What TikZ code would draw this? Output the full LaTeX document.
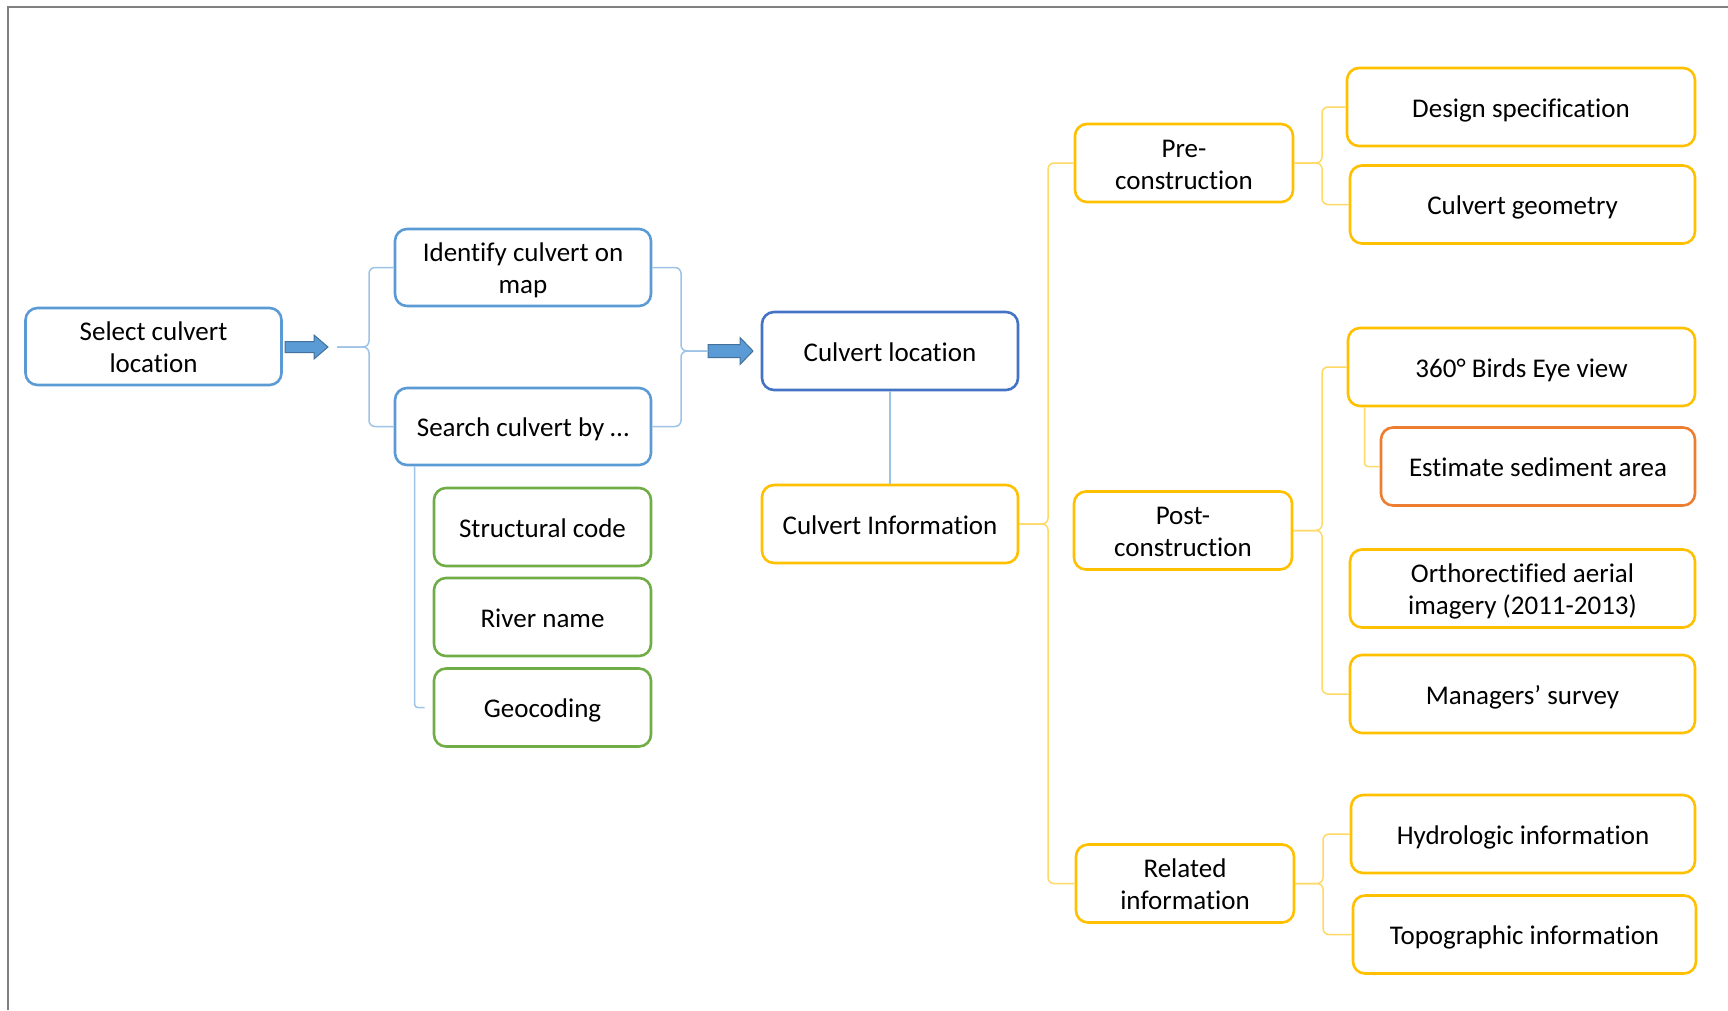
\documentclass[tikz,border=0pt]{standalone}
\usepackage{fontspec}
\setmainfont{Carlito}[Ligatures=NoCommon]
\definecolor{bluebox}{HTML}{5B9BD5}
\definecolor{darkblue}{HTML}{4472C4}
\definecolor{blueline}{HTML}{9DC3E6}
\definecolor{yellowbox}{HTML}{FFC000}
\definecolor{yellowline}{HTML}{FFD966}
\definecolor{greenbox}{HTML}{70AD47}
\definecolor{orangebox}{HTML}{ED7D31}
\definecolor{arrowedge}{HTML}{41719C}
\definecolor{framegray}{HTML}{808080}
\newcommand\mystrut{\rule[-7pt]{0pt}{34pt}}
\tikzset{
  box/.style={draw, rounded corners=12pt, line width=2.6pt, fill=white, inner sep=0pt,
    align=center, font=\fontsize{27}{32}\selectfont},
  bluenode/.style={box, draw=bluebox},
  darknode/.style={box, draw=darkblue},
  greennode/.style={box, draw=greenbox},
  yellownode/.style={box, draw=yellowbox},
  orangenode/.style={box, draw=orangebox},
  sz/.style 2 args={minimum width=#1, minimum height=#2},
  bline/.style={draw=blueline, line width=1.5pt, rounded corners=6pt},
  yline/.style={draw=yellowline, line width=1.5pt, rounded corners=6pt},
  arrowshape/.style={fill=bluebox, draw=arrowedge, line width=1pt, line join=miter},
}
\begin{document}
\lineskiplimit=-50pt\relax
\begin{tikzpicture}[x=1pt,y=-1pt]
\useasboundingbox (0,0) rectangle (1728,1010);
\draw[framegray, line width=1.5pt] (8,1010) -- (8,7) -- (1728,7);

% left part
\node[bluenode, sz={256pt}{77pt}] (sel) at (153.5,346.5) {\mystrut Select culvert\\\mystrut location};
\node[bluenode, sz={256pt}{77pt}] (ident) at (523,267.5) {\mystrut Identify culvert on\\\mystrut map};
\node[bluenode, sz={256pt}{77pt}] (search) at (523,426.5) {\mystrut Search culvert by \dots};
\node[greennode, sz={217pt}{78pt}] (struct) at (542.5,527) {\mystrut Structural code};
\node[greennode, sz={217pt}{78pt}] (river) at (542.5,617) {\mystrut River name};
\node[greennode, sz={217pt}{78pt}] (geo) at (542.5,707.5) {\mystrut Geocoding};

\node[darknode, sz={256pt}{78pt}] (cloc) at (890,351) {\mystrut Culvert location};
\node[yellownode, sz={256pt}{78pt}] (cinfo) at (890,524) {\mystrut Culvert Information};

% right part
\node[yellownode, sz={218pt}{78pt}] (pre) at (1184,163) {\mystrut Pre-\\\mystrut construction};
\node[yellownode, sz={218pt}{78pt}] (post) at (1183,530.5) {\mystrut Post-\\\mystrut construction};
\node[yellownode, sz={218pt}{78pt}] (rel) at (1185,883.5) {\mystrut Related\\\mystrut information};

\node[yellownode, sz={348pt}{78pt}] (design) at (1521,107) {\mystrut Design specification};
\node[yellownode, sz={345pt}{78pt}] (geom) at (1522.5,204.5) {\mystrut Culvert geometry};
\node[yellownode, sz={347pt}{78pt}] (birds) at (1521.5,367) {\mystrut 360° Birds Eye view};
\node[orangenode, sz={314pt}{78pt}] (sed) at (1538,466.5) {\mystrut Estimate sediment area};
\node[yellownode, sz={345pt}{78pt}] (ortho) at (1522.5,588.5) {\mystrut Orthorectified aerial\\\mystrut imagery (2011-2013)};
\node[yellownode, sz={345pt}{78pt}] (mgr) at (1522.5,694) {\mystrut Managers’ survey};
\node[yellownode, sz={344pt}{78pt}] (hydro) at (1523,834) {\mystrut Hydrologic information};
\node[yellownode, sz={343pt}{78pt}] (topo) at (1524.5,934.5) {\mystrut Topographic information};

% arrows
\draw[arrowshape] (285,341.5) -- (314,341.5) -- (314,335) -- (328,347) -- (314,359) -- (314,352.5) -- (285,352.5) -- cycle;
\draw[arrowshape] (708,344.5) -- (740,344.5) -- (740,337.5) -- (753,351) -- (740,364.5) -- (740,357.5) -- (708,357.5) -- cycle;

\coordinate (b1) at (337,347);
\coordinate (b2) at (708,351);

% blue brackets
\draw[bline] (b1) -- (369,347) -- (369,267.5) -- (ident.west);
\draw[bline] (b1) -- (369,347) -- (369,426.5) -- (search.west);
\draw[bline] (ident.east) -- (681,267.5) -- (681,351) -- (b2);
\draw[bline] (search.east) -- (681,426.5) -- (681,351) -- (b2);
\draw[bline, rounded corners=3pt] ([xshift=21pt]search.south west) |- ([xshift=-8pt]geo.west);
\draw[bline] (cloc.south) -- (cinfo.north);

% yellow brackets
\draw[yline] (cinfo.east) -- (1048,524) -- (1048,163) -- (pre.west);
\draw[yline] (cinfo.east) -- (1048,524) -- (1048,883.5) -- (rel.west);

\draw[yline] (pre.east) -- (1322,163) -- (1322,107) -- (design.west);
\draw[yline] (pre.east) -- (1322,163) -- (1322,204.5) -- (geom.west);

\draw[yline] (post.east) -- (1322,530.5) -- (1322,367) -- (birds.west);
\draw[yline] (post.east) -- (1322,530.5) -- (1322,694) -- (mgr.west);
\draw[yline, rounded corners=3pt] ([xshift=18pt]birds.south west) |- (sed.west);

\draw[yline] (rel.east) -- (1323,883.5) -- (1323,834) -- (hydro.west);
\draw[yline] (rel.east) -- (1323,883.5) -- (1323,934.5) -- (topo.west);
\end{tikzpicture}
\end{document}
